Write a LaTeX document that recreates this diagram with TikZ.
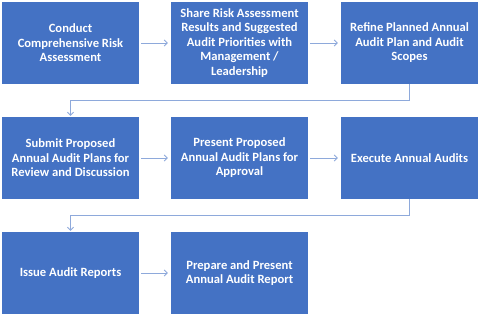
\documentclass[tikz,border=0pt]{standalone}
\usepackage{fontspec}
\setmainfont{Carlito}
\usetikzlibrary{arrows.meta}
\definecolor{boxblue}{HTML}{4472C4}
\definecolor{linkblue}{HTML}{8EA9DB}
\begin{document}
\begin{tikzpicture}[x=1pt,y=-1pt,
  stepbox/.style={fill=boxblue, draw=none, minimum width=137pt, minimum height=82pt,
    text=white, font=\bfseries\fontsize{12.6}{14.5}\selectfont, align=center, inner sep=0pt},
  link/.style={draw=linkblue, line width=0.8pt, -{Straight Barb[length=3pt,width=6pt]}}]
\useasboundingbox[fill=white] (0,0) rectangle (480,316);
\node[stepbox] (a) at (70.5,43) {Conduct\\Comprehensive Risk\\Assessment};
\node[stepbox] (b) at (239.5,43) {Share Risk Assessment\\Results and Suggested\\Audit Priorities with\\Management /\\Leadership};
\node[stepbox] (c) at (409.5,43) {Refine Planned Annual\\Audit Plan and Audit\\Scopes};
\node[stepbox] (d) at (70.5,158) {Submit Proposed\\Annual Audit Plans for\\Review and Discussion};
\node[stepbox] (e) at (239.5,158) {Present Proposed\\Annual Audit Plans for\\Approval};
\node[stepbox] (f) at (409.5,158) {Execute Annual Audits};
\node[stepbox] (g) at (70.5,273) {Issue Audit Reports};
\node[stepbox] (h) at (239.5,273) {Prepare and Present\\Annual Audit Report};
\draw[link, shorten <=2pt, shorten >=3pt] (a.east) -- (b.west);
\draw[link, shorten <=2pt, shorten >=3pt] (b.east) -- (c.west);
\draw[link, shorten <=2pt, shorten >=3pt] (d.east) -- (e.west);
\draw[link, shorten <=2pt, shorten >=3pt] (e.east) -- (f.west);
\draw[link, shorten <=2pt, shorten >=3pt] (g.east) -- (h.west);
\draw[link, shorten >=1pt] (c.south) -- ++(0,16) -| (d.north);
\draw[link, shorten >=1pt] (f.south) -- ++(0,16) -| (g.north);
\end{tikzpicture}
\end{document}
